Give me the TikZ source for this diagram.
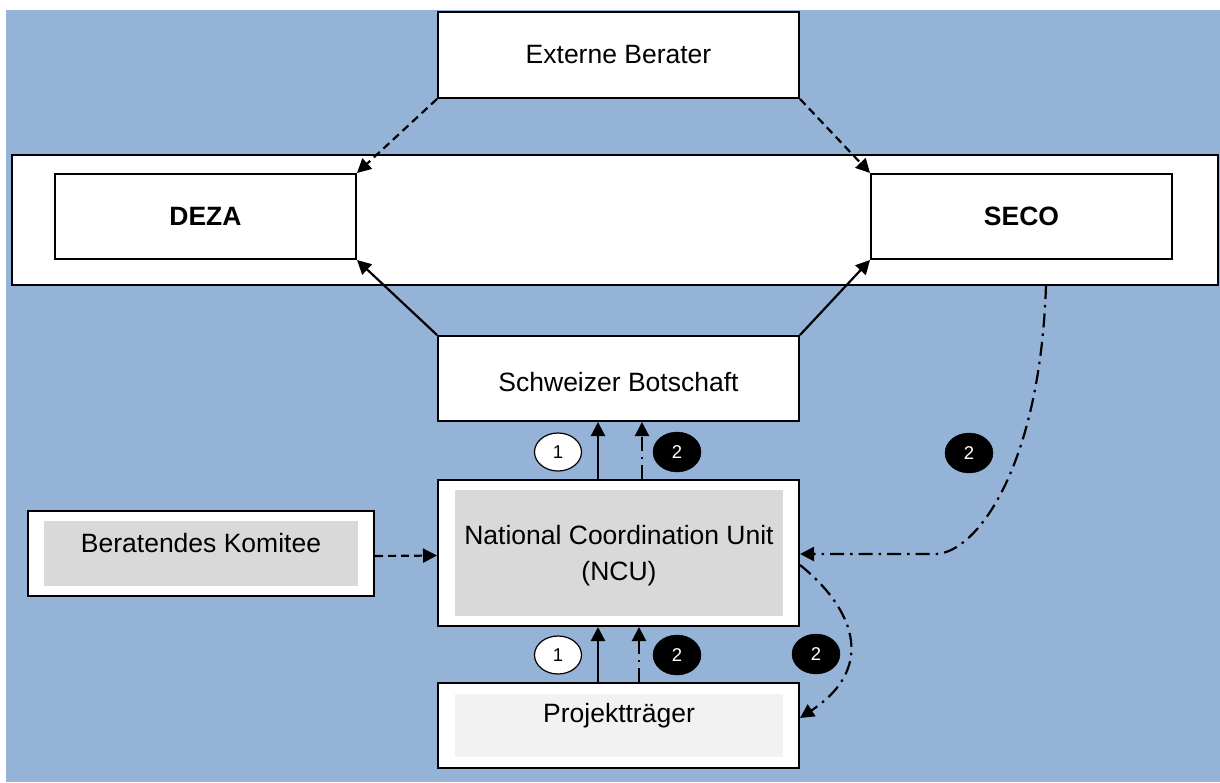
\documentclass[tikz,border=0pt]{standalone}
\usepackage{fontspec}
\setmainfont{Liberation Sans}
\usetikzlibrary{arrows.meta,shapes.geometric}
\definecolor{bgblue}{RGB}{149,179,215}
\definecolor{ncugray}{RGB}{217,217,217}
\definecolor{lightgray}{RGB}{242,242,242}
\tikzset{
  box/.style={draw=black, line width=2pt, fill=white, rectangle, inner sep=0pt},
  innerbox/.style={rectangle, inner sep=0pt, draw=none},
  lbl/.style={font=\fontsize{26.5}{36}\selectfont, align=center},
  wnum/.style={ellipse, draw=black, line width=1.2pt, fill=white, minimum width=47pt, minimum height=38pt, inner sep=0pt, font=\fontsize{18.5}{20}\selectfont},
  bnum/.style={ellipse, draw=black, fill=black, text=white, minimum width=48pt, minimum height=40pt, inner sep=0pt, font=\fontsize{18.5}{20}\selectfont},
  conn/.style={line width=2.2pt, -{Triangle[length=14pt,width=14pt]}},
  dashedconn/.style={conn, dash pattern=on 8pt off 5pt},
  dashdotconn/.style={conn, dash pattern=on 14pt off 6pt on 2.5pt off 6pt},
}
\begin{document}
\begin{tikzpicture}[x=1pt, y=-1pt]
\useasboundingbox (0,0) rectangle (1220,782);
\fill[bgblue] (6,10) rectangle (1220,782);

% boxes
\node[box, minimum width=361pt, minimum height=86pt] (ext) at (618.5,55) {};
\node[lbl] at (ext) {Externe Berater};
\node[box, minimum width=1206pt, minimum height=130pt] (outer) at (615,220) {};
\node[box, minimum width=301pt, minimum height=85pt] (deza) at (205.5,216.5) {};
\node[lbl, font=\fontsize{26.5}{36}\selectfont\bfseries] at (deza) {DEZA};
\node[box, minimum width=301pt, minimum height=85pt] (seco) at (1021.5,216.5) {};
\node[lbl, font=\fontsize{26.5}{36}\selectfont\bfseries] at (seco) {SECO};
\node[box, minimum width=361pt, minimum height=85pt] (bot) at (618.5,378.5) {};
\node[lbl] at (618.5,382) {Schweizer Botschaft};

\node[box, minimum width=361pt, minimum height=146pt] (ncu) at (618.5,553) {};
\node[innerbox, fill=ncugray, minimum width=328pt, minimum height=126pt] (ncuin) at (619,553) {};
\node[lbl] at (619,556) {National Coordination Unit\\(NCU)};

\node[box, minimum width=361pt, minimum height=85pt] (proj) at (618.5,725.5) {};
\node[innerbox, fill=lightgray, minimum width=328pt, minimum height=63pt] (projin) at (619,725.5) {};
\node[lbl] at (619,716) {Projektträger};

\node[box, minimum width=346pt, minimum height=85pt] (ber) at (201,553.5) {};
\node[innerbox, fill=ncugray, minimum width=314pt, minimum height=65pt] (berin) at (201,553.5) {};
\node[lbl] at (201,543) {Beratendes Komitee};

% number ellipses
\node[wnum] (w1) at (558,452) {\raisebox{-3pt}{1}};
\node[bnum] (b1) at (677,452) {\raisebox{-3pt}{2}};
\node[wnum] (w2) at (558,655) {\raisebox{-3pt}{1}};
\node[bnum] (b2) at (677,655) {\raisebox{-3pt}{2}};
\node[bnum] (b3) at (816,654) {\raisebox{-3pt}{2}};
\node[bnum] (b4) at (969,453) {\raisebox{-3pt}{2}};

% connectors
\draw[dashedconn] (ext.south west) -- (deza.north east);
\draw[dashedconn] (ext.south east) -- (seco.north west);
\draw[conn] (bot.north west) -- (deza.south east);
\draw[conn] (bot.north east) -- (seco.south west);

\draw[conn] ([xshift=-20.5pt]ncu.north) -- ([xshift=-20.5pt]bot.south);
\draw[dashdotconn] ([xshift=23.5pt]ncu.north) -- ([xshift=23.5pt]bot.south);
\draw[conn] ([xshift=-20.5pt]proj.north) -- ([xshift=-20.5pt]ncu.south);
\draw[dashdotconn] ([xshift=20.5pt]proj.north) -- ([xshift=20.5pt]ncu.south);

\draw[dashedconn] ([yshift=-2.5pt]ber.east) -- ([yshift=-2.5pt]ncu.west);

\coordinate (secoout) at (1046,285);
\draw[dashdotconn] (secoout) .. controls (1040,470) and (975,554) .. (935,554) -- ([yshift=-1pt]ncu.east);
\draw[dashdotconn] ([yshift=-12pt]ncu.east) .. controls (850,605) and (880,665) .. ([yshift=7.5pt]proj.east);
\end{tikzpicture}
\end{document}
